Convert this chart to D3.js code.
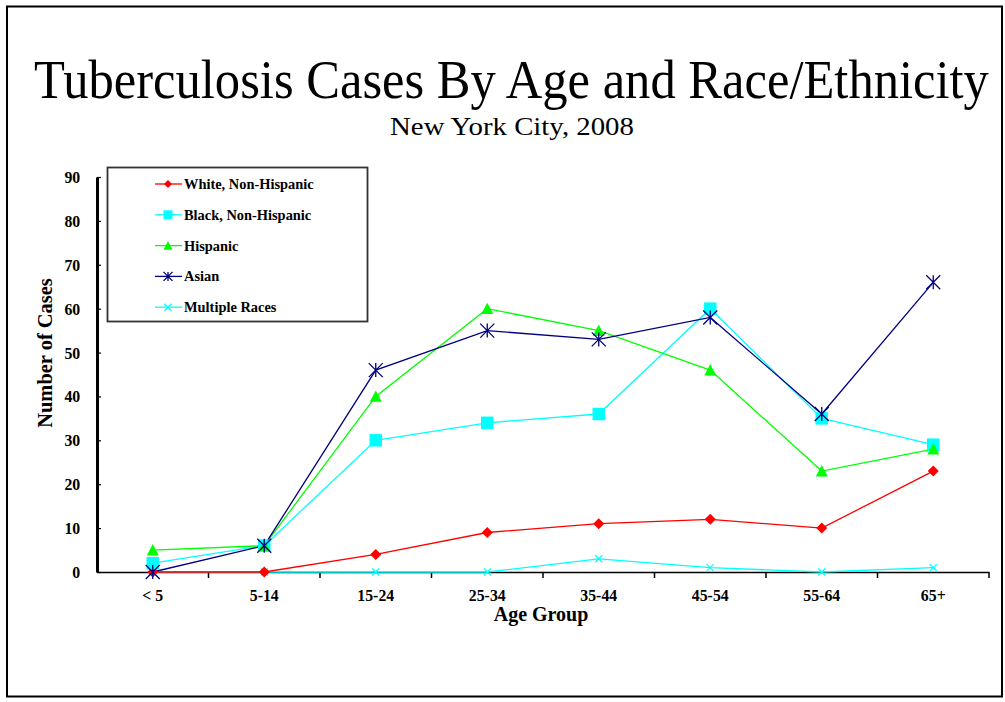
<!DOCTYPE html>
<html><head><meta charset="utf-8">
<script src="https://d3js.org/d3.v7.min.js"></script>
<style>body{margin:0;background:#fff}svg{display:block}</style>
</head><body>
<svg id="c" width="1005" height="702"></svg>
<script>
const ageGroups = ["< 5","5-14","15-24","25-34","35-44","45-54","55-64","65+"];
const white    = [0,0,4,9,11,12,10,23];
const black    = [2,6,30,34,36,60,35,29];
const hispanic = [5,6,40,60,55,46,23,28];
const asian    = [0,6,46,55,53,58,36,66];
const multiple = [0,0,0,0,3,1,0,1];
const otherPt  = [1,null,null,null,null,null,null,null];
const yTicks = [0,10,20,30,40,50,60,70,80,90];

const series = [
  {name:"Other", values:otherPt, color:"#FF00FF", sym:"circle", size:9, lsize:0},
  {name:"Multiple Races", values:multiple, color:"#00FFFF", sym:"x", size:7, lsize:7},
  {name:"White, Non-Hispanic", values:white, color:"#FF0000", sym:"diamond", size:11, lsize:8},
  {name:"Black, Non-Hispanic", values:black, color:"#00FFFF", sym:"square", size:12.5, lsize:9},
  {name:"Hispanic", values:hispanic, color:"#00FF00", sym:"triangle", size:12, lsize:9},
  {name:"Asian", values:asian, color:"#000080", sym:"asterisk", size:14, lsize:9}
];
const legendOrder = ["White, Non-Hispanic","Black, Non-Hispanic","Hispanic","Asian","Multiple Races"];

const svg = d3.select("#c");
const serif = "'Liberation Serif','Times New Roman',serif";
const SX = 0.93;

svg.append("rect").attr("x",7).attr("y",6.5).attr("width",995).attr("height",690)
  .attr("fill","none").attr("stroke","#000").attr("stroke-width",2);

const title = svg.append("text").attr("text-anchor","middle")
  .attr("font-family",serif).attr("font-size",50)
  .text("Tuberculosis Cases By Age and Race/Ethnicity");
const tw = title.node().getComputedTextLength();
title.attr("transform",`translate(511.5,98) scale(${955/tw},1.08)`);

const sub = svg.append("text").attr("text-anchor","middle")
  .attr("font-family",serif).attr("font-size",24)
  .text("New York City, 2008");
const sw = sub.node().getComputedTextLength();
sub.attr("transform",`translate(512,135) scale(${244/sw},1.05)`);

const L=97, R=989, T=177, B=572;
const x = d3.scaleBand().domain(ageGroups).range([L,R]);
const y = d3.scaleLinear().domain([0,90]).range([B,T]);

// axes
const xAxis = svg.append("g").attr("transform",`translate(0,${B})`)
  .call(d3.axisBottom(x).tickSize(0).tickPadding(17));
xAxis.select(".domain").attr("stroke","#000").attr("stroke-width",1.5);
xAxis.selectAll("text").attr("font-family",serif).attr("font-weight","bold").attr("font-size",17)
  .attr("fill","#000").attr("transform",`scale(${SX},1)`);
xAxis.selectAll("line.bt").data(ageGroups.slice(1).concat(["end"])).enter().append("line")
  .attr("class","bt")
  .attr("x1",d=> d==="end"? R : x(d)).attr("x2",d=> d==="end"? R : x(d))
  .attr("y1",0).attr("y2",6).attr("stroke","#000").attr("stroke-width",1.5);

const yAxis = svg.append("g").attr("transform",`translate(${L},0)`)
  .call(d3.axisLeft(y).tickValues(yTicks).tickSize(-4).tickPadding(18).tickSizeOuter(0));
yAxis.select(".domain").attr("stroke","#000").attr("stroke-width",3);
yAxis.selectAll("line").attr("stroke","#000").attr("stroke-width",1.2);
yAxis.selectAll("text").attr("font-family",serif).attr("font-weight","bold").attr("font-size",17)
  .attr("fill","#000").attr("transform",`scale(${SX},1)`);

svg.append("text").attr("transform",`translate(52,353) rotate(-90) scale(${SX},1)`).attr("text-anchor","middle")
  .attr("font-family",serif).attr("font-weight","bold").attr("font-size",22).text("Number of Cases");
svg.append("text").attr("transform",`translate(541,621) scale(${SX},1)`).attr("text-anchor","middle")
  .attr("font-family",serif).attr("font-weight","bold").attr("font-size",21.5).text("Age Group");

function drawMarker(g, sym, size, color){
  const h=size/2;
  if(sym==="diamond"){
    g.append("path").attr("d",`M0,${-h}L${h},0L0,${h}L${-h},0Z`).attr("fill",color);
  } else if(sym==="square"){
    g.append("rect").attr("x",-h).attr("y",-h).attr("width",size).attr("height",size).attr("fill",color);
  } else if(sym==="triangle"){
    g.append("path").attr("d",`M0,${-h}L${h},${h*0.9}L${-h},${h*0.9}Z`).attr("fill",color);
  } else if(sym==="circle"){
    g.append("circle").attr("r",h).attr("fill",color);
  } else if(sym==="x"){
    g.append("path").attr("d",`M${-h},${-h}L${h},${h}M${-h},${h}L${h},${-h}`).attr("stroke",color).attr("stroke-width",1.3);
  } else if(sym==="asterisk"){
    g.append("path").attr("d",`M${-h},${-h}L${h},${h}M${-h},${h}L${h},${-h}M0,${-h}L0,${h}`).attr("stroke",color).attr("stroke-width",1.3);
  }
}

const line = d3.line().defined(d=>d.v!==null).x(d=>x(d.k)+x.bandwidth()/2).y(d=>y(d.v));
const plot = svg.append("g");
series.forEach(s=>{
  const pts = ageGroups.map((k,i)=>({k, v:s.values[i]}));
  plot.append("path").datum(pts).attr("d",line).attr("fill","none").attr("stroke",s.color).attr("stroke-width",1.3);
});
series.forEach(s=>{
  ageGroups.forEach((k,i)=>{
    if(s.values[i]===null) return;
    const g = plot.append("g").attr("transform",`translate(${x(k)+x.bandwidth()/2},${y(s.values[i])})`);
    drawMarker(g, s.sym, s.size, s.color);
  });
});

// legend
const lg = svg.append("g");
lg.append("rect").attr("x",107.5).attr("y",167.5).attr("width",260).attr("height",154)
  .attr("fill","#fff").attr("stroke","#333").attr("stroke-width",1.8);
legendOrder.forEach((n,i)=>{
  const s = series.find(d=>d.name===n);
  const yy = 184 + i*30.8;
  lg.append("line").attr("x1",155).attr("x2",182).attr("y1",yy).attr("y2",yy).attr("stroke",s.color).attr("stroke-width",1.3);
  const g = lg.append("g").attr("transform",`translate(168,${yy})`);
  drawMarker(g, s.sym, s.lsize, s.color);
  lg.append("text").attr("transform",`translate(184,${yy+5}) scale(${SX},1)`).attr("font-family",serif).attr("font-weight","bold")
    .attr("font-size",15.5).text(n);
});
</script>
</body></html>
